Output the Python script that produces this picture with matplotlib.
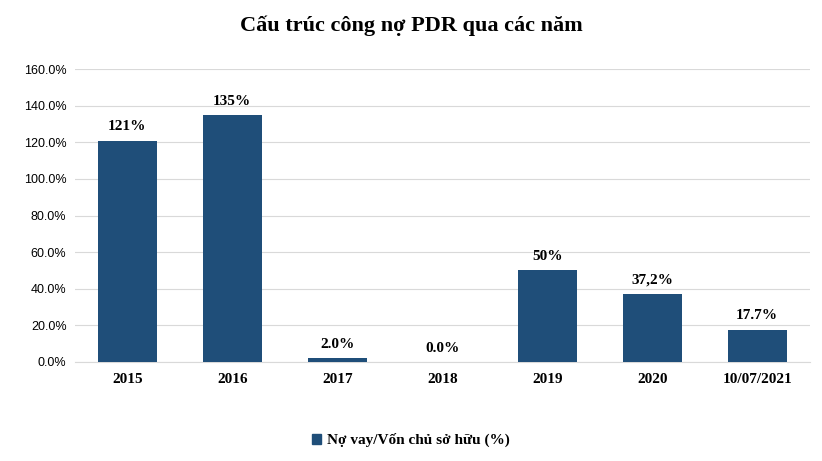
import matplotlib
matplotlib.use('Agg')
import matplotlib.pyplot as plt
from matplotlib.ticker import FuncFormatter, MultipleLocator
from matplotlib.patches import Patch

categories = ["2015", "2016", "2017", "2018", "2019", "2020", "10/07/2021"]
values = [121, 135, 2.0, 0.0, 50, 37.2, 17.7]
labels = ["121%", "135%", "2.0%", "0.0%", "50%", "37,2%", "17.7%"]
bar_color = '#1F4E79'
serif = 'Liberation Serif'

fig = plt.figure(figsize=(8.22, 4.61), dpi=100)
ax = fig.add_axes([0.091, 0.215, 0.894, 0.635])

x = range(len(categories))
ax.bar(x, values, width=0.56, color=bar_color, zorder=3)
for i, (v, lab) in enumerate(zip(values, labels)):
    ax.text(i, v + 4, lab, ha='center', va='bottom', fontsize=11,
            fontweight='bold', family=serif)

ax.set_xlim(-0.5, len(categories) - 0.5)
ax.set_ylim(0, 160)
ax.yaxis.set_major_locator(MultipleLocator(20))
ax.yaxis.set_major_formatter(FuncFormatter(lambda v, p: f"{v:.1f}%"))
ax.grid(axis='y', color='#D9D9D9', linewidth=0.8, zorder=0)
for s in ['top', 'right', 'left']:
    ax.spines[s].set_visible(False)
ax.spines['bottom'].set_color('#D9D9D9')
ax.tick_params(axis='y', length=0, labelsize=9, pad=6)
ax.tick_params(axis='x', length=0, pad=8)
ax.set_xticks(list(x))
ax.set_xticklabels(categories, fontsize=11, fontweight='bold', family=serif)
for t in ax.get_yticklabels():
    t.set_family('Liberation Sans')

fig.text(0.5, 0.945, "Cấu trúc công nợ PDR qua các năm", ha='center', va='center',
         fontsize=16, fontweight='bold', family=serif)
fig.legend(handles=[Patch(color=bar_color, label="Nợ vay/Vốn chủ sở hữu (%)")],
           loc='center', bbox_to_anchor=(0.5, 0.045), frameon=False,
           prop={'family': serif, 'weight': 'bold', 'size': 11},
           handlelength=0.6, handleheight=0.6, handletextpad=0.4)

fig.savefig('out.png', dpi=100)
